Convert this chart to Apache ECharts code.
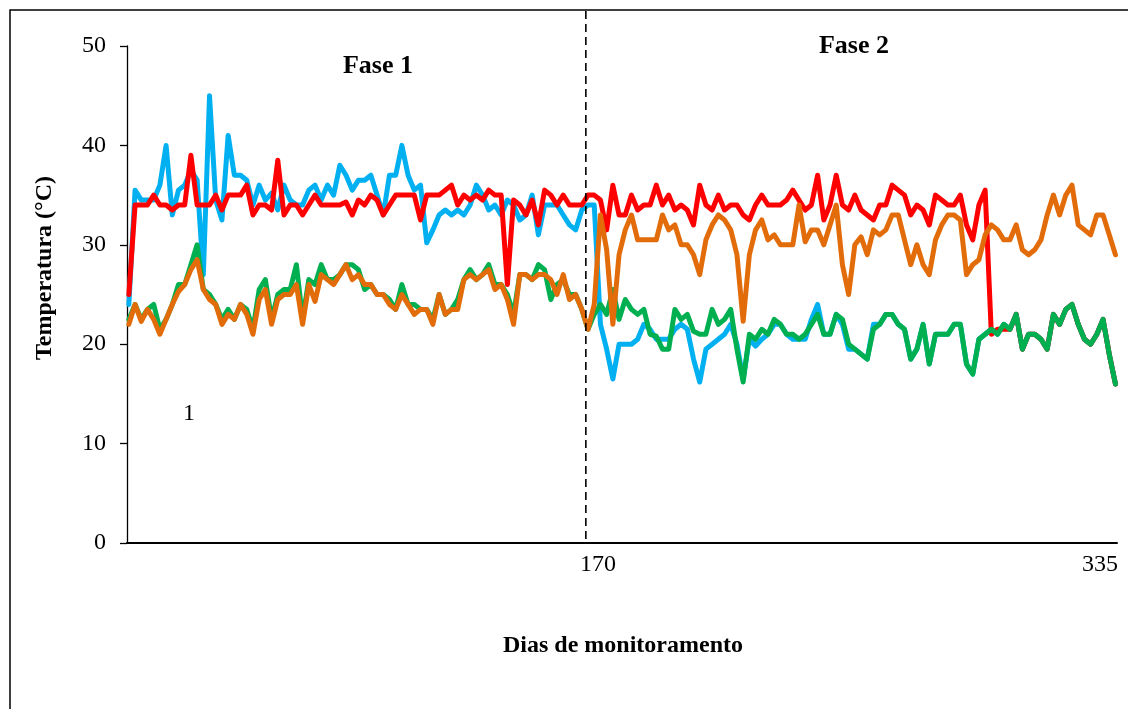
<!DOCTYPE html>
<html>
<head>
<meta charset="utf-8">
<script src="https://cdn.jsdelivr.net/npm/echarts@6/dist/echarts.min.js"></script>
<style>
  html, body { margin: 0; padding: 0; background: #fff; }
  #tempChart { width: 1128px; height: 709px; }
</style>
</head>
<body>
<div id="tempChart"></div>
<script>
// dias de monitoramento amostrados (de 2 em 2 dias)
const dias = [];
for (let d = 22; d <= 340; d += 2) dias.push(d);

const xTickLabels = [170, 335];
const divisaoFases = 169.3;

const azul = [
  24, 35.5, 34.5, 34.5, 34.5, 36, 40, 33, 35.5, 36, 37.5, 36.5, 27, 45, 34.5, 32.5, 41, 37, 37, 36.5,
  34, 36, 34.5, 35.2, 33.5, 36, 34.5, 34, 34, 35.5, 36, 34.5, 36, 35, 38, 37, 35.5, 36.5, 36.5, 37,
  35, 33, 37, 37, 40, 37, 35.5, 36, 30.2, 31.5, 33, 33.5, 33, 33.5, 33, 34, 36, 35, 33.5, 34,
  33, 34.5, 34, 32.5, 33, 35, 31, 34, 34, 34, 33, 32, 31.5, 33.5, 34, 34, 22, 19.5, 16.5, 20,
  20, 20, 20.5, 22, 21.5, 20.5, 20.5, 20.5, 21.5, 22, 21.5, 18.5, 16.2, 19.5, 20, 20.5, 21, 22, 20, 16.5, 20.5,
  19.8, 20.5, 21, 22, 22, 21, 20.5, 20.5, 20.5, 22.5, 24, 21, 21, 23, 22, 19.5, 19.5, 19, 18.5, 22,
  22, 23, 23, 22, 21.5, 18.5, 19.5, 22, 18, 21, 21, 21, 22, 22, 18, 17, 20.5, 21, 21.5, 21,
  22, 21.5, 23, 19.5, 21, 21, 20.5, 19.5, 23, 22, 23.5, 24, 22, 20.5, 20, 21, 22.5, 19, 16
];

const vermelho = [
  25, 34, 34, 34, 35, 34, 34, 33.5, 34, 34, 39, 34, 34, 34, 35, 33.5, 35, 35, 35, 36,
  33, 34, 34, 33.5, 38.5, 33, 34, 34, 33, 34, 35, 34, 34, 34, 34, 34.3, 33, 34.5, 34, 35,
  34.5, 33, 34, 35, 35, 35, 35, 32.5, 35, 35, 35, 35.5, 36, 34, 35, 34.5, 35, 34.5, 35.5, 35,
  35, 26, 34.5, 34, 33, 34.5, 32, 35.5, 35, 34, 35, 34, 34, 34, 35, 35, 34.5, 31.5, 36, 33,
  33, 35, 33.5, 34, 34, 36, 34, 35, 33.5, 34, 33.5, 32, 36, 34, 33.5, 35, 33.5, 34, 34, 33, 32.5,
  34, 35, 34, 34, 34, 34.5, 35.5, 34.5, 33.5, 34, 37, 32.5, 34, 37, 34, 33.5, 35, 33.5, 33, 32.5,
  34, 34, 36, 35.5, 35, 33, 34, 33.5, 32, 35, 34.5, 34, 34, 35, 32, 30.5, 34, 35.5, 21, 21.5,
  21.5, 21.5, 23, 19.5, 21, 21, 20.5, 19.5, 23, 22, 23.5, 24, 22, 20.5, 20, 21, 22.5, 19, 16
];

const verde = [
  22.5, 24, 22.5, 23.5, 24, 21.5, 22.5, 24, 26, 26, 28, 30, 25.5, 25, 24, 22.5, 23.5, 22.5, 24, 23.5,
  21.5, 25.5, 26.5, 22.5, 25, 25.5, 25.5, 28, 22.5, 26.5, 26, 28, 26.5, 26.5, 27, 28, 28, 27.5, 25.5, 26,
  25, 25, 24.5, 23.5, 26, 24, 24, 23.5, 23.5, 22.5, 25, 23, 23.5, 24.5, 26.5, 27.5, 26.5, 27, 28, 26,
  26, 25, 23, 27, 27, 26.5, 28, 27.5, 24.5, 26, 26.5, 25, 25, 23.5, 21.5, 23, 24, 23, 25.5, 22.5,
  24.5, 23.5, 23, 23.5, 21, 20.8, 19.5, 19.5, 23.5, 22.5, 23, 21.3, 21, 21, 23.5, 22, 22.5, 23.5, 19.5, 16.2, 21,
  20.5, 21.5, 21, 22.5, 22, 21, 21, 20.5, 21, 22, 23, 21, 21, 23, 22.5, 20, 19.5, 19, 18.5, 21.5,
  22, 23, 23, 22, 21.5, 18.5, 19.5, 22, 18, 21, 21, 21, 22, 22, 18, 17, 20.5, 21, 21.5, 21,
  22, 21.5, 23, 19.5, 21, 21, 20.5, 19.5, 23, 22, 23.5, 24, 22, 20.5, 20, 21, 22.5, 19, 16
];

const laranja = [
  22, 24, 22.3, 23.5, 22.5, 21, 22.5, 24, 25.3, 26, 27.5, 28.5, 25.5, 24.5, 24, 22, 23, 22.5, 24, 23,
  21, 24.5, 25.5, 22, 24.5, 25, 25, 26, 22, 26, 24.3, 27, 26.5, 26, 27, 28, 26.5, 27, 26, 26,
  25, 25, 24, 23.5, 25, 24, 23, 23.5, 23.5, 22, 25, 23, 23.5, 23.5, 26.5, 27, 26.5, 27, 27.5, 25.5,
  26, 24.5, 22, 27, 27, 26.5, 27, 27, 26.5, 25, 27, 24.5, 25, 23.5, 21.5, 24, 33, 29.5, 22, 29,
  31.5, 33, 30.5, 30.5, 30.5, 30.5, 33, 31.5, 32, 30, 30, 29, 27, 30.5, 32, 33, 32.5, 31.5, 29, 22.3, 29,
  31.5, 32.5, 30.5, 31, 30, 30, 30, 34, 30.3, 31.5, 31.5, 30, 32, 34, 28, 25, 30, 30.8, 29, 31.5,
  31, 31.5, 33, 33, 30.5, 28, 30, 28, 27, 30.5, 32, 33, 33, 32.5, 27, 28, 28.5, 31, 32, 31.5,
  30.5, 30.5, 32, 29.5, 29, 29.5, 30.5, 33, 35, 33, 35, 36, 32, 31.5, 31, 33, 33, 31, 29
];

const fonte = '"Liberation Serif", "Times New Roman", serif';

function pares(valores) {
  return dias.map((d, i) => [d, valores[i]]);
}

function serie(nome, cor, valores) {
  return {
    name: nome,
    type: "line",
    showSymbol: false,
    symbol: "none",
    data: pares(valores),
    lineStyle: { color: cor, width: 5, cap: "round", join: "round" },
    itemStyle: { color: cor },
    z: 2
  };
}

let tempChart = echarts.init(document.getElementById("tempChart"));

function textos() {
  return [
    {
      type: "rect",
      shape: { x: 10, y: 10, width: 1200, height: 800 },
      style: { fill: "none", stroke: "#000", lineWidth: 1.5 },
      silent: true,
      z: -1
    },
    {
      type: "text",
      x: 45, y: 268,
      rotation: Math.PI / 2,
      style: {
        text: "Temperatura (°C)",
        fontFamily: fonte, fontSize: 24, fontWeight: "bold",
        fill: "#000", textAlign: "center", textVerticalAlign: "middle"
      }
    },
    {
      type: "text",
      x: 623, y: 646,
      style: {
        text: "Dias de monitoramento",
        fontFamily: fonte, fontSize: 24, fontWeight: "bold",
        fill: "#000", textAlign: "center", textVerticalAlign: "middle"
      }
    },
    {
      type: "text",
      x: 378, y: 66,
      style: {
        text: "Fase 1",
        fontFamily: fonte, fontSize: 26, fontWeight: "bold",
        fill: "#000", textAlign: "center", textVerticalAlign: "middle"
      }
    },
    {
      type: "text",
      x: 854, y: 46,
      style: {
        text: "Fase 2",
        fontFamily: fonte, fontSize: 26, fontWeight: "bold",
        fill: "#000", textAlign: "center", textVerticalAlign: "middle"
      }
    },
    {
      type: "text",
      x: 189, y: 414,
      style: {
        text: "1",
        fontFamily: fonte, fontSize: 24,
        fill: "#000", textAlign: "center", textVerticalAlign: "middle"
      }
    }
  ];
}

tempChart.setOption({
  backgroundColor: "#fff",
  animation: false,
  grid: { left: 127, right: 11, top: 46, bottom: 166 },
  xAxis: {
    type: "value",
    min: 21.4,
    max: 340.5,
    axisLine: { show: true, lineStyle: { color: "#000", width: 2 } },
    axisTick: { show: false },
    splitLine: { show: false },
    axisLabel: {
      customValues: xTickLabels,
      margin: 10,
      color: "#000",
      fontFamily: fonte,
      fontSize: 24,
      formatter: v => (v === 170 ? "{d|170}" : String(v)),
      rich: {
        d: { padding: [0, 0, 0, 20], color: "#000", fontFamily: fonte, fontSize: 24 }
      }
    }
  },
  yAxis: {
    type: "value",
    min: 0,
    max: 50,
    interval: 10,
    axisLine: { show: true, lineStyle: { color: "#000", width: 1.3 } },
    axisTick: { show: true, inside: false, length: 7, lineStyle: { color: "#000", width: 1.3 } },
    splitLine: { show: false },
    axisLabel: { margin: 21, color: "#000", fontFamily: fonte, fontSize: 24 }
  },
  graphic: textos(),
  series: [
    serie("Azul", "#00B0F0", azul),
    serie("Vermelho", "#FF0000", vermelho),
    serie("Verde", "#00B050", verde),
    serie("Laranja", "#E36C0A", laranja)
  ]
});

// linha tracejada entre as fases: vai do eixo x até a moldura do topo
const base = tempChart.convertToPixel({ gridIndex: 0 }, [divisaoFases, 0]);
const elementos = textos();
elementos.push({
  type: "line",
  shape: { x1: base[0], y1: 11, x2: base[0], y2: base[1] },
  style: { stroke: "#000", lineWidth: 1.6, lineDash: [8, 5] },
  silent: true,
  z: 10
});
tempChart.setOption({ graphic: elementos }, { replaceMerge: ["graphic"] });

window.addEventListener("resize", () => {
  tempChart.resize();
});
</script>
</body>
</html>
